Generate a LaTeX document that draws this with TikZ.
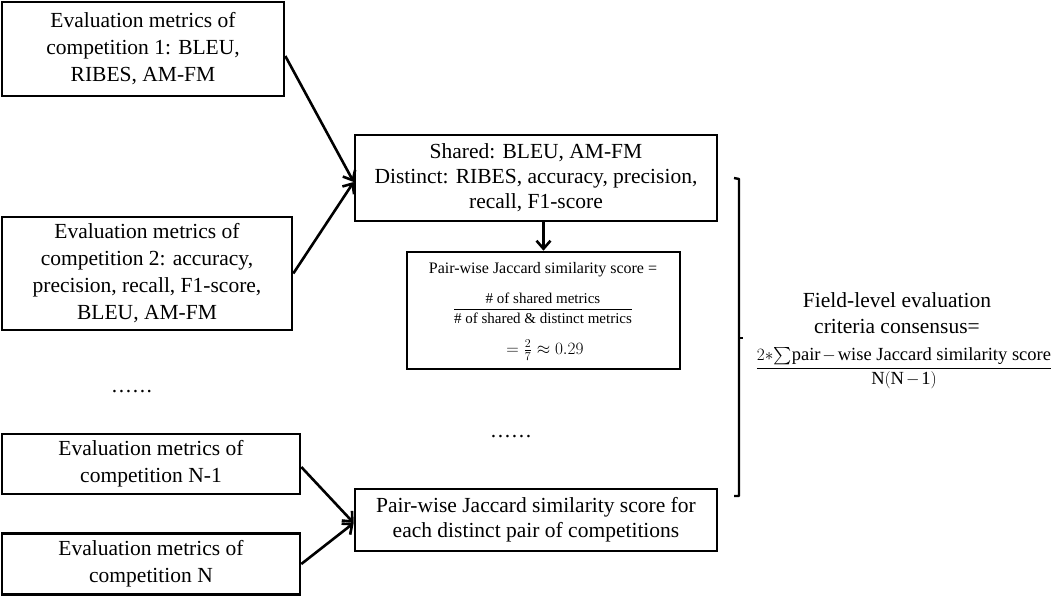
\documentclass[tikz,border=0pt]{standalone}
\usepackage{amsmath}
\usepackage{fontspec}
\setmainfont{Liberation Serif}
\usetikzlibrary{arrows.meta}
\begin{document}
\begin{tikzpicture}[x=1pt,y=-1pt,
  box/.style={draw,line width=2.6pt,inner sep=0pt,align=center,font=\fontsize{21.5}{27}\selectfont},
  arr/.style={line width=2.6pt,-{Straight Barb[length=8pt,width=14pt]}},
  txt/.style={inner sep=0pt,align=center,font=\fontsize{21.5}{26}\selectfont},
  smalltxt/.style={inner sep=0pt,align=center,font=\fontsize{16}{19}\selectfont},
  dots/.style={inner sep=0pt,font=\fontsize{21.5}{26}\selectfont}]
\useasboundingbox (0,0) rectangle (1061,596);
% left column
\node[box,minimum width=282pt,minimum height=94pt] (b1) at (143,49)
  {Evaluation metrics of\\competition 1: BLEU,\\RIBES, AM-FM};
\node[box,minimum width=290pt,minimum height=113pt] (b2) at (147,273.5)
  {Evaluation metrics of\\competition 2: accuracy,\\precision, recall, F1-score,\\BLEU, AM-FM};
\node[dots] (d1) at (132,392) {.\kern1.6pt.\kern1.6pt.\kern1.6pt.\kern1.6pt.\kern1.6pt.};
\node[box,minimum width=298pt,minimum height=60pt] (bn1) at (151,464)
  {Evaluation metrics of\\competition N-1};
\node[box,minimum width=298pt,minimum height=61pt] (bn) at (151,564)
  {Evaluation metrics of\\competition N};
% middle column
\node[box,minimum width=362pt,minimum height=86pt,font=\fontsize{21.5}{25}\selectfont] (sh) at (536,178)
  {Shared: BLEU, AM-FM\\Distinct: RIBES, accuracy, precision,\\recall, F1-score};
\node[box,minimum width=273pt,minimum height=117pt] (jac) at (543.5,310.5) {};
\node[smalltxt] (j1) at (543,270) {Pair-wise Jaccard similarity score =};
\node[smalltxt,font=\fontsize{15}{18}\selectfont] (j2) at (543,308)
  {$\dfrac{\text{\# of shared metrics}}{\text{\# of shared \& distinct metrics}}$};
\node[smalltxt,font=\fontsize{18}{20}\selectfont] (j3) at (545,350) {$=\frac{2}{7}\approx 0.29$};
\node[dots] (d2) at (511,437) {.\kern1.6pt.\kern1.6pt.\kern1.6pt.\kern1.6pt.\kern1.6pt.};
\node[box,minimum width=362pt,minimum height=62pt,font=\fontsize{21.5}{25}\selectfont] (bot) at (536,520)
  {Pair-wise Jaccard similarity score for\\each distinct pair of competitions};
% connectors
\draw[arr] ([yshift=-7pt]b1.east) -- ([yshift=-4pt]sh.west);
\draw[arr] (b2.east) -- ([yshift=-4pt]sh.west);
\draw[arr] ([yshift=-3pt]bn1.east) -- ([yshift=-3pt]bot.west);
\draw[arr] (bn.east) -- ([yshift=-3pt]bot.west);
\draw[arr] (jac.north |- sh.south) -- (jac.north);
% bracket
\coordinate (bt) at (739,179);
\coordinate (bb) at (739,496);
\coordinate (bm) at (739,338);
\draw[line width=2.4pt,line join=round] ([xshift=-5pt,yshift=1pt]bt) -- (bt) -- (bb) -- ([xshift=-5pt]bb);
\draw[line width=2.4pt] (bm) -- ++(4,0);
% right text
\node[txt] (fl) at (897,313) {Field-level evaluation\\criteria consensus=};
\node[inner sep=0pt,font=\fontsize{18.5}{22}\selectfont] (fm) at (904,368)
  {$\dfrac{2{\ast}{\textstyle\sum}\text{pair}\mkern2mu{-}\mkern2mu\text{wise Jaccard similarity score}}{\mathrm{N(N}\mkern2mu{-}\mkern2mu\mathrm{1)}}$};
\end{tikzpicture}
\end{document}
